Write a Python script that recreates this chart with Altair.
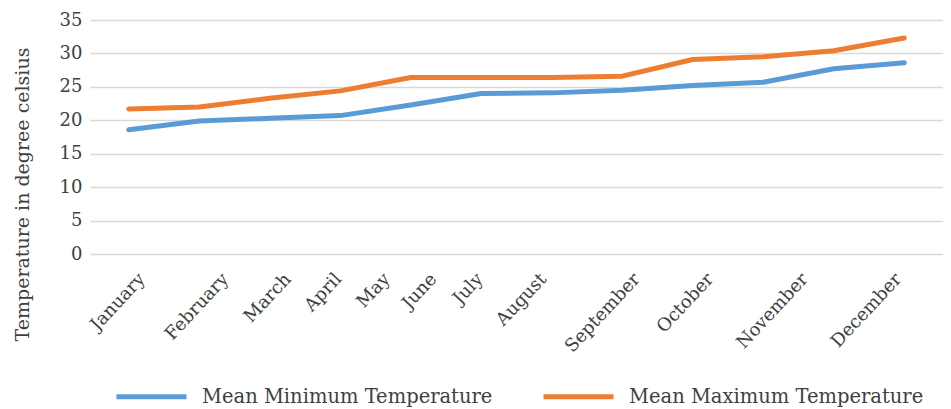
import altair as alt
import pandas as pd

months = ["January", "February", "March", "April", "May", "June", "July",
          "August", "September", "October", "November", "December"]
mean_min = [18.6, 19.9, 20.3, 20.7, 22.3, 24.0, 24.1, 24.5, 25.2, 25.7, 27.7, 28.6]
mean_max = [21.7, 22.0, 23.3, 24.4, 26.4, 26.4, 26.4, 26.6, 29.1, 29.5, 30.4, 32.3]
series = ["Mean Minimum Temperature", "Mean Maximum Temperature"]
y_ticks = [0, 5, 10, 15, 20, 25, 30, 35]

# horizontal nudges of the month labels, as laid out in the source figure (style only)
label_nudge = [13, 26, 18, -2, -24, -48, -72, -79, -56, -53, -29, -6]

rows = []
for m, lo, hi in zip(months, mean_min, mean_max):
    rows.append({"Month": m, "Series": series[0], "Temp": lo})
    rows.append({"Month": m, "Series": series[1], "Temp": hi})
df = pd.DataFrame(rows)

FONT = "DejaVu Serif"
TXT = "#404040"

label_offset = {
    "condition": [{"test": f"datum.value == '{m}'", "value": d} for m, d in zip(months, label_nudge)],
    "value": 0,
}

chart = alt.Chart(df).mark_line(strokeWidth=5, strokeCap="round", strokeJoin="round").encode(
    x=alt.X("Month:N", sort=months, scale=alt.Scale(type="point", padding=0.55),
            axis=alt.Axis(title=None, labelAngle=-47, labelAlign="right", labelBaseline="middle",
                          labelPadding=22, ticks=False, domain=False, grid=False,
                          labelOffset=label_offset,
                          labelFont=FONT, labelFontSize=18, labelColor=TXT)),
    y=alt.Y("Temp:Q", scale=alt.Scale(domain=[0, 35], nice=False),
            axis=alt.Axis(title="Temperature in degree celsius", values=y_ticks,
                          ticks=False, domain=False, gridColor="#d9d9d9", gridWidth=1.5,
                          labelFont=FONT, labelFontSize=18, labelColor=TXT, labelPadding=8,
                          titleFont=FONT, titleFontSize=19, titleFontWeight="normal",
                          titleColor=TXT, titleAngle=270, titleAlign="center",
                          titleBaseline="middle", titleX=-68, titleY=174, titleLimit=400)),
    color=alt.Color("Series:N", sort=series,
                    scale=alt.Scale(domain=series, range=["#5b9bd5", "#ed7d31"]),
                    legend=alt.Legend(title=None, orient="none", direction="horizontal",
                                      legendX=24, legendY=339,
                                      symbolType="stroke", symbolSize=4900, symbolStrokeWidth=5,
                                      labelFont=FONT, labelFontSize=19.5, labelColor=TXT,
                                      columnPadding=40, labelOffset=13,
                                      labelLimit=400)),
).properties(
    width=853, height=234,
    autosize=alt.AutoSizeParams(type="none"),
    padding={"left": 82, "top": 12, "right": 0, "bottom": 155},
).configure_view(stroke=None)

chart.save("out.html", embed_options={"renderer": "svg", "actions": False})
